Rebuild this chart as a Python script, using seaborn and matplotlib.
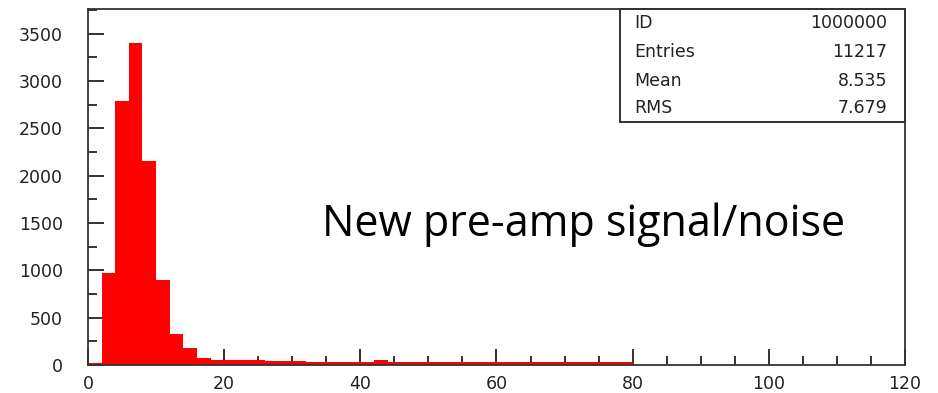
import numpy as np
import pandas as pd
import matplotlib
matplotlib.use('Agg')
import matplotlib.pyplot as plt
import seaborn as sns
from matplotlib.ticker import MultipleLocator

# histogram contents, bins of width 2 from 0 to 80
bin_lo = list(range(0, 80, 2))
counts = [20, 969, 2783, 3397, 2153, 895, 324, 176, 75, 55,
          48, 48, 48, 45, 45, 45, 34, 34, 34, 34,
          34, 48, 30, 30, 30, 30, 30, 30, 30, 30,
          30, 30, 30, 30, 30, 30, 30, 30, 30, 30]

stat_names = ['ID', 'Entries', 'Mean', 'RMS']
stat_vals = ['1000000', '11217', '8.535', '7.679']
note = 'New pre-amp signal/noise'

df = pd.DataFrame({'x': np.array(bin_lo) + 1.0, 'n': counts})

sns.set_style('white')
plt.rcParams['font.family'] = ['DejaVu Sans']

fig = plt.figure(figsize=(9.38, 3.93), dpi=100)
ax = fig.add_axes([0.0938, 0.0712, 0.871, 0.906])

sns.histplot(data=df, x='x', weights='n', binwidth=2, binrange=(0, 80),
             color='#ff0000', alpha=1.0, edgecolor='none', linewidth=0, ax=ax)

ax.set_xlim(0, 120)
ax.set_ylim(0, 3760)
ax.set_xlabel('')
ax.set_ylabel('')
ax.xaxis.set_major_locator(MultipleLocator(20))
ax.xaxis.set_minor_locator(MultipleLocator(5))
ax.yaxis.set_major_locator(MultipleLocator(500))
ax.yaxis.set_minor_locator(MultipleLocator(250))
ax.tick_params(axis='both', which='both', direction='in', color='#222222',
               width=1.3, bottom=True, left=True, top=False, right=False)
ax.tick_params(axis='both', which='major', length=11.5, labelsize=12.5,
               labelcolor='#222222')
ax.tick_params(axis='both', which='minor', length=6.5)
ax.tick_params(axis='y', which='major', pad=18)
ax.tick_params(axis='x', which='major', pad=7)
for s in ax.spines.values():
    s.set_color('#333333')
    s.set_linewidth(1.3)

# stats box
box = plt.Rectangle((0.651, 0.683), 0.349, 0.317, transform=ax.transAxes,
                    fill=False, edgecolor='#222222', linewidth=1.3, clip_on=False)
ax.add_patch(box)
ys = [0.96, 0.878, 0.798, 0.722]
for name, val, y in zip(stat_names, stat_vals, ys):
    ax.text(0.669, y, name, transform=ax.transAxes, fontsize=12.5,
            color='#222222', va='center', ha='left')
    ax.text(0.978, y, val, transform=ax.transAxes, fontsize=12.5,
            color='#222222', va='center', ha='right')

ax.text(0.286, 0.395, note, transform=ax.transAxes, fontsize=31,
        family=['Open Sans', 'DejaVu Sans'], color='black',
        va='center', ha='left')

fig.savefig('out.png', dpi=100)
